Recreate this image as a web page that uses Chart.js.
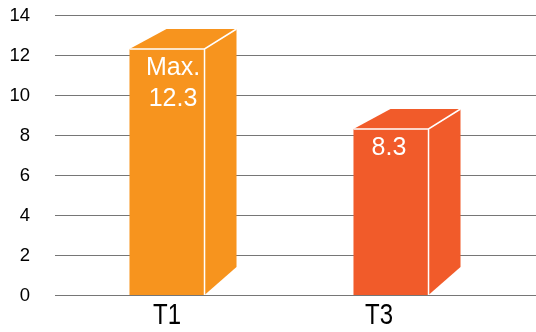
<!DOCTYPE html>
<html>
<head>
<meta charset="utf-8">
<script src="https://cdn.jsdelivr.net/npm/chart.js@4.4.0/dist/chart.umd.min.js"></script>
<style>
  html, body { margin: 0; padding: 0; background: #fff; }
  #chart { display: block; }
</style>
</head>
<body>
<canvas id="chart" width="536" height="332"></canvas>
<script>
// chart data
const categories = ['T1', 'T3'];
const values = [12.3, 8.3];
const barColors = ['#F7941E', '#F15B2A'];
const barNotes = [['Max.', '12.3'], ['8.3']];
const yTicks = [0, 2, 4, 6, 8, 10, 12, 14];

const FONT = '"Liberation Sans", Arial, sans-serif';
// the original labels are not quite centred
const labelShift = [0, -12];
const noteShift = [6, -2];

// fake 3D: side + top faces drawn from each bar element
const boxPlugin = {
    id: 'box3d',
    beforeDatasetsDraw(chart) {
        // grid lines run from the axis to the right edge of the canvas
        const ctx = chart.ctx;
        const y = chart.scales.y;
        const area = chart.chartArea;
        ctx.save();
        ctx.strokeStyle = '#767676';
        ctx.lineWidth = 1;
        ctx.fillStyle = '#000';
        ctx.font = '18.5px ' + FONT;
        ctx.textAlign = 'right';
        ctx.textBaseline = 'middle';
        yTicks.forEach(v => {
            const py = Math.round(y.getPixelForValue(v)) + 0.5;
            ctx.beginPath();
            ctx.moveTo(area.left, py);
            ctx.lineTo(chart.width, py);
            ctx.stroke();
            ctx.fillText(String(v), 30, py);
        });
        ctx.restore();
    },
    afterDatasetsDraw(chart) {
        const ctx = chart.ctx;
        const meta = chart.getDatasetMeta(0);
        meta.data.forEach((bar, i) => {
            const p = bar.getProps(['x', 'y', 'base', 'width'], true);
            const left = p.x - p.width / 2;
            const right = p.x + p.width / 2;
            const top = p.y;
            const bottom = p.base;
            const dxL = 37, dxR = 32, dyTop = 20, dyBot = 28;

            ctx.save();
            ctx.fillStyle = barColors[i];
            // side face
            ctx.beginPath();
            ctx.moveTo(right, top);
            ctx.lineTo(right + dxR, top - dyTop);
            ctx.lineTo(right + dxR, bottom - dyBot);
            ctx.lineTo(right, bottom);
            ctx.closePath();
            ctx.fill();
            // top face
            ctx.beginPath();
            ctx.moveTo(left, top);
            ctx.lineTo(left + dxL, top - dyTop);
            ctx.lineTo(right + dxR, top - dyTop);
            ctx.lineTo(right, top);
            ctx.closePath();
            ctx.fill();

            // white edges
            ctx.strokeStyle = '#ffffff';
            ctx.lineWidth = 1.5;
            ctx.beginPath();
            ctx.moveTo(left, top);
            ctx.lineTo(right, top);
            ctx.lineTo(right + dxR, top - dyTop);
            ctx.moveTo(right, top);
            ctx.lineTo(right, bottom);
            ctx.stroke();

            // value note inside the bar
            ctx.fillStyle = '#ffffff';
            ctx.font = '25px ' + FONT;
            ctx.textAlign = 'center';
            ctx.textBaseline = 'middle';
            barNotes[i].forEach((line, k) => {
                ctx.fillText(line, p.x + noteShift[i], top + 19 + k * 31);
            });
            ctx.restore();
        });
    },
    afterDraw(chart) {
        // category labels, a bit taller than wide like the original
        const ctx = chart.ctx;
        const x = chart.scales.x;
        const area = chart.chartArea;
        ctx.save();
        ctx.fillStyle = '#000';
        ctx.font = '24px ' + FONT;
        ctx.textAlign = 'center';
        ctx.textBaseline = 'alphabetic';
        categories.forEach((c, i) => {
            const px = x.getPixelForValue(i) + labelShift[i];
            ctx.save();
            ctx.translate(px, area.bottom + 29);
            ctx.scale(1, 1.22);
            ctx.fillText(c, 0, 0);
            ctx.restore();
        });
        ctx.restore();
    }
};

new Chart(document.getElementById('chart'), {
    type: 'bar',
    data: {
        labels: categories,
        datasets: [{
            data: values,
            backgroundColor: barColors,
            borderWidth: 0,
            categoryPercentage: 1,
            barPercentage: 0.335
        }]
    },
    options: {
        responsive: false,
        animation: false,
        events: [],
        layout: {
            padding: { top: 15, right: 33, left: 0, bottom: 37 }
        },
        plugins: {
            legend: { display: false },
            tooltip: { enabled: false }
        },
        scales: {
            x: {
                display: false
            },
            y: {
                min: 0,
                max: 14,
                afterFit(scale) { scale.width = 55; },
                afterBuildTicks(scale) {
                    scale.ticks = yTicks.map(v => ({ value: v }));
                },
                grid: { display: false, drawTicks: false },
                border: { display: false },
                ticks: { display: false }
            }
        }
    },
    plugins: [boxPlugin]
});
</script>
</body>
</html>
